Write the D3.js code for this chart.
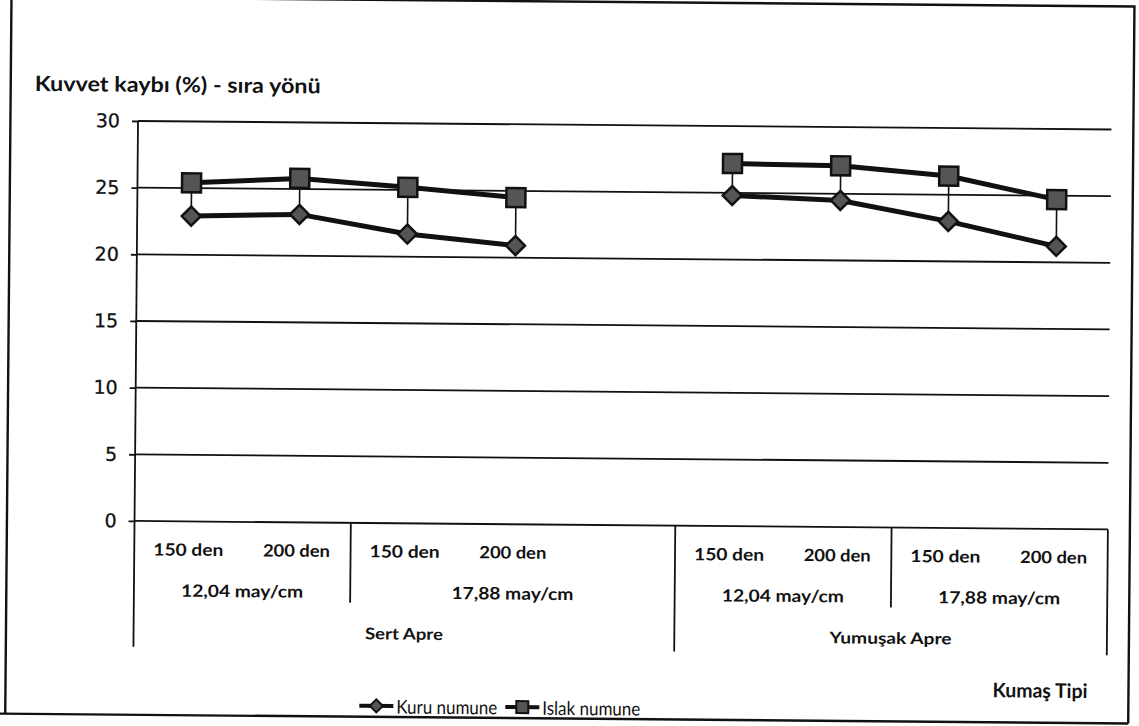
<!DOCTYPE html>
<html>
<head>
<meta charset="utf-8">
<script src="https://cdn.jsdelivr.net/npm/d3@7"></script>
<style>
  html, body { margin: 0; padding: 0; background: #fff; }
  svg { display: block; }
</style>
</head>
<body>
<svg id="chart" width="1139" height="726"></svg>
<script>
// Category hierarchy (finish / thread density / yarn count); one empty slot separates the finishes
const finishes  = ["Sert Apre", "Sert Apre", "Sert Apre", "Sert Apre", "Sert Apre",
                   "Yumuşak Apre", "Yumuşak Apre", "Yumuşak Apre", "Yumuşak Apre"];
const densities = ["12,04 may/cm", "12,04 may/cm", "17,88 may/cm", "17,88 may/cm", "17,88 may/cm",
                   "12,04 may/cm", "12,04 may/cm", "17,88 may/cm", "17,88 may/cm"];
const yarns     = ["150 den", "200 den", "150 den", "200 den", "",
                   "150 den", "200 den", "150 den", "200 den"];

// Strength loss (%) per sample condition
const kuruValues  = [22.9, 23.1, 21.7, 20.9, null, 24.8, 24.5, 23.0, 21.2];
const islakValues = [25.4, 25.8, 25.2, 24.5, null, 27.2, 27.1, 26.4, 24.7];

const seriesNames = ["Kuru numune", "Islak numune"];
const yTicks = [0, 5, 10, 15, 20, 25, 30];

const svg = d3.select("#chart");
const root = svg.append("g").attr("transform", "rotate(0.5, 620, 400)");

const plot = { left: 135.6, right: 1109, top: 125.2, bottom: 525.2 };

const idx = d3.range(yarns.length);
const x = d3.scaleBand().domain(idx).range([plot.left, plot.right]).padding(0);
const y = d3.scaleLinear().domain([0, 30]).range([plot.bottom, plot.top]);
const cx = i => x(i) + x.bandwidth() / 2;

const INK = "#111";
const MARK_FILL = "#555";

// Outer chart frame
root.append("path")
  .attr("d", "M8,2 L1131,2 L1131,719 M8,2 L8,719 M0,719 L1131,719")
  .attr("fill", "none").attr("stroke", INK).attr("stroke-width", 2.4);

// Title
root.append("text")
  .attr("x", 32).attr("y", 96)
  .attr("font-family", "Lato, 'Open Sans', sans-serif")
  .attr("font-weight", 700).attr("font-size", 21)
  .attr("textLength", 286).attr("lengthAdjust", "spacingAndGlyphs")
  .attr("fill", INK)
  .text("Kuvvet kaybı (%) - sıra yönü");

// Horizontal gridlines + y axis
const yAxis = d3.axisLeft(y).tickValues(yTicks).tickSize(6).tickPadding(12)
  .tickFormat(d3.format("d"));
const yG = root.append("g").attr("transform", `translate(${plot.left},0)`).call(yAxis);
yG.select(".domain").remove();
yG.selectAll(".tick line").attr("stroke", INK).attr("stroke-width", 1.8);
yG.selectAll(".tick text")
  .attr("font-family", "'DejaVu Sans', Verdana, sans-serif")
  .attr("font-size", 19).attr("fill", INK)
  .attr("stroke", INK).attr("stroke-width", 0.3);

root.append("g").selectAll("line").data(yTicks).join("line")
  .attr("x1", plot.left).attr("x2", plot.right)
  .attr("y1", d => y(d)).attr("y2", d => y(d))
  .attr("stroke", INK).attr("stroke-width", 1.8);

// Category table below the axis
const tableBottom = 651;
const midBottom = 605;
const table = root.append("g").attr("stroke", INK).attr("stroke-width", 1.8);
table.append("line")
  .attr("x1", plot.left).attr("x2", plot.left)
  .attr("y1", y(30)).attr("y2", tableBottom);
table.append("line")
  .attr("x1", plot.right).attr("x2", plot.right)
  .attr("y1", y(0)).attr("y2", tableBottom);
idx.slice(1).forEach(i => {
  if (finishes[i] !== finishes[i - 1]) {
    table.append("line").attr("x1", x(i)).attr("x2", x(i))
      .attr("y1", y(0)).attr("y2", tableBottom);
  } else if (densities[i] !== densities[i - 1]) {
    table.append("line").attr("x1", x(i)).attr("x2", x(i))
      .attr("y1", y(0)).attr("y2", midBottom);
  }
});

// Groups of consecutive equal labels (density groups never cross a finish boundary)
function runs(arr) {
  const out = [];
  arr.forEach((v, i) => {
    const last = out[out.length - 1];
    if (last && last.label === v && finishes[i] === finishes[last.start]) last.end = i;
    else out.push({ label: v, start: i, end: i });
  });
  return out;
}

const labelFont = "Lato, 'Open Sans', sans-serif";
const labels = root.append("g").attr("font-family", labelFont).attr("font-weight", 700)
  .attr("fill", INK).attr("text-anchor", "middle").attr("dominant-baseline", "central");

labels.selectAll("text.yarn").data(idx.filter(i => yarns[i] !== "")).join("text")
  .attr("class", "yarn")
  .attr("x", i => cx(i)).attr("y", 553)
  .attr("font-size", 17)
  .attr("textLength", i => yarns[i].startsWith("150") ? 70 : 67)
  .attr("lengthAdjust", "spacingAndGlyphs")
  .text(i => yarns[i]);

labels.selectAll("text.dens").data(runs(densities)).join("text")
  .attr("class", "dens")
  .attr("x", d => (x(d.start) + x(d.end) + x.bandwidth()) / 2).attr("y", 594)
  .attr("font-size", 17)
  .attr("textLength", 122).attr("lengthAdjust", "spacingAndGlyphs")
  .text(d => d.label);

labels.selectAll("text.fin").data(runs(finishes)).join("text")
  .attr("class", "fin")
  .attr("x", d => (x(d.start) + x(d.end) + x.bandwidth()) / 2).attr("y", 635)
  .attr("font-size", 16)
  .attr("textLength", d => d.label === "Sert Apre" ? 78 : 122)
  .attr("lengthAdjust", "spacingAndGlyphs")
  .text(d => d.label);

// High-low connectors between the two series
root.append("g").selectAll("line").data(idx.filter(i => kuruValues[i] != null && islakValues[i] != null))
  .join("line")
  .attr("x1", i => cx(i)).attr("x2", i => cx(i))
  .attr("y1", i => y(Math.max(kuruValues[i], islakValues[i])))
  .attr("y2", i => y(Math.min(kuruValues[i], islakValues[i])))
  .attr("stroke", INK).attr("stroke-width", 1.6);

// Series lines
const line = d3.line().defined(d => d.v != null).x(d => cx(d.i)).y(d => y(d.v));
const kuruPts = kuruValues.map((v, i) => ({ i, v }));
const islakPts = islakValues.map((v, i) => ({ i, v }));

[kuruPts, islakPts].forEach(pts => {
  root.append("path").datum(pts)
    .attr("d", line).attr("fill", "none")
    .attr("stroke", INK).attr("stroke-width", 5).attr("stroke-linejoin", "round");
});

// Markers
const diamond = (px, py, r) => `M${px},${py - r} L${px + r},${py} L${px},${py + r} L${px - r},${py} Z`;
const square = (px, py, h) => `M${px - h},${py - h} H${px + h} V${py + h} H${px - h} Z`;

root.append("g").selectAll("path").data(kuruPts.filter(d => d.v != null)).join("path")
  .attr("d", d => diamond(cx(d.i), y(d.v), 9.5))
  .attr("fill", MARK_FILL).attr("stroke", INK).attr("stroke-width", 2.5);

root.append("g").selectAll("path").data(islakPts.filter(d => d.v != null)).join("path")
  .attr("d", d => square(cx(d.i), y(d.v), 9.5))
  .attr("fill", MARK_FILL).attr("stroke", INK).attr("stroke-width", 2.5);

// Axis title
root.append("text")
  .attr("x", 1090).attr("y", 686)
  .attr("text-anchor", "end").attr("dominant-baseline", "central")
  .attr("font-family", labelFont).attr("font-weight", 700).attr("font-size", 20)
  .attr("textLength", 95).attr("lengthAdjust", "spacingAndGlyphs")
  .attr("fill", INK)
  .text("Kumaş Tipi");

// Legend
const legendY = 708;
const legendItems = [
  { name: seriesNames[0], x0: 362, marker: "diamond", textW: 101 },
  { name: seriesNames[1], x0: 508, marker: "square", textW: 98 }
];
const lg = root.append("g");
legendItems.forEach(it => {
  lg.append("line").attr("x1", it.x0).attr("x2", it.x0 + 34)
    .attr("y1", legendY).attr("y2", legendY)
    .attr("stroke", INK).attr("stroke-width", 4);
  lg.append("path")
    .attr("d", it.marker === "diamond" ? diamond(it.x0 + 17, legendY, 6.5) : square(it.x0 + 17, legendY, 6))
    .attr("fill", MARK_FILL).attr("stroke", INK).attr("stroke-width", 2);
  lg.append("text")
    .attr("x", it.x0 + 37).attr("y", legendY)
    .attr("dominant-baseline", "central")
    .attr("font-family", labelFont).attr("font-size", 19)
    .attr("textLength", it.textW).attr("lengthAdjust", "spacingAndGlyphs")
    .attr("fill", INK)
    .text(it.name);
});
</script>
</body>
</html>
